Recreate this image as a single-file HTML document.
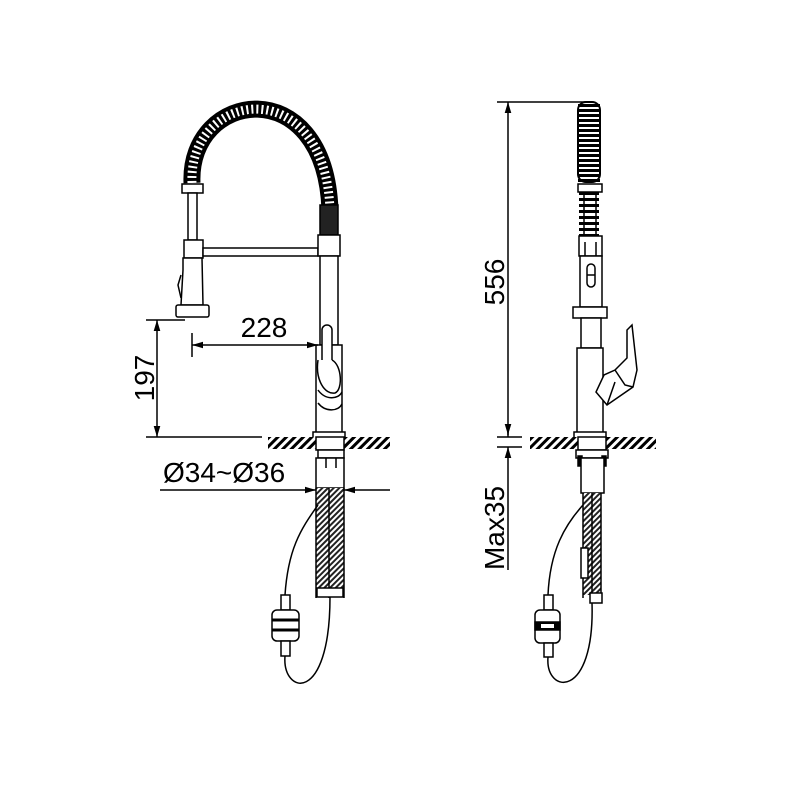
<!DOCTYPE html>
<html><head><style>body{margin:0;background:#fff}svg{display:block}</style></head>
<body>
<svg width="800" height="800" viewBox="0 0 800 800" xmlns="http://www.w3.org/2000/svg" font-family="Liberation Sans, Arial, sans-serif">
<defs>
<pattern id="h" width="6" height="6" patternUnits="userSpaceOnUse" patternTransform="rotate(45)">
<rect width="6" height="6" fill="#fff"/><rect width="3" height="6" fill="#000"/></pattern>
<pattern id="hose" width="4" height="4" patternUnits="userSpaceOnUse" patternTransform="rotate(45)">
<rect width="4" height="4" fill="#fff"/><rect width="2" height="4" fill="#222"/></pattern>
<marker id="a" viewBox="0 0 10 6" refX="10" refY="3" markerWidth="11" markerHeight="7" markerUnits="userSpaceOnUse" orient="auto-start-reverse"><path d="M0,0L10,3L0,6z" fill="#000"/></marker>
</defs>
<g fill="none" stroke="#000" stroke-width="1.5">
<!-- LEFT FAUCET -->
<path d="M192,183 C188,90 325,70 330,210" stroke-width="17"/>
<path d="M192,183 C188,90 325,70 330,210" stroke="#fff" stroke-width="9" stroke-dasharray="2 3"/>
<rect x="320" y="205" width="18" height="30" fill="#222"/>
<rect x="182" y="184" width="21" height="9" fill="#fff"/>
<rect x="188" y="193" width="9" height="47" fill="#fff"/>
<rect x="184" y="240" width="19" height="18" fill="#fff"/>
<path d="M183,258 L202,258 L203,305 L181,305 L183,270 Z" fill="#fff"/>
<path d="M181,275 L178,285 L181,298" />
<rect x="176" y="305" width="33" height="12" rx="2" fill="#fff"/>
<rect x="203" y="248" width="115" height="8" fill="#fff"/>
<rect x="318" y="235" width="22" height="21" fill="#fff"/>
<rect x="320" y="256" width="18" height="89" fill="#fff"/>
<rect x="316" y="345" width="26" height="88" fill="#fff"/>
<rect x="313" y="432" width="32" height="6" fill="#fff"/>
<rect x="322" y="325" width="10" height="45" rx="5" fill="#fff"/>
<path d="M318,360 C315,380 325,395 335,393 C343,390 342,365 332,360" fill="#fff"/>
<path d="M318,390 C325,400 338,400 342,392"/>
<path d="M318,403 C325,412 338,412 342,404"/>
<!-- counter left -->
<rect x="268" y="437" width="48" height="12" fill="url(#h)" stroke="none"/>
<rect x="344" y="437" width="46" height="12" fill="url(#h)" stroke="none"/>
<rect x="316" y="437" width="28" height="13" fill="#fff"/>
<rect x="318" y="450" width="26" height="8" fill="#fff"/>
<rect x="316" y="458" width="28" height="30" fill="#fff"/>
<path d="M326,458v10M336,458v10"/>
<rect x="316" y="488" width="28" height="100" fill="url(#hose)" stroke="none"/>
<path d="M316,488v110M329,488v110M344,488v110"/>
<rect x="317" y="588" width="26" height="9" fill="#fff"/>
<path d="M318,505 C300,530 288,550 285,595"/>
<rect x="281" y="595" width="9" height="15" fill="#fff"/>
<rect x="272" y="610" width="27" height="31" rx="5" fill="#fff"/>
<path d="M272,620h27M272,630h27" stroke-width="3"/>
<rect x="281" y="641" width="9" height="15" fill="#fff"/>
<path d="M285,656 C282,695 330,705 330,597"/>
<!-- left dims -->
<path d="M146,320H185M146,437H262M192,333v24"/>
<path d="M157,320V437" marker-start="url(#a)" marker-end="url(#a)"/>
<path d="M192,345H318" marker-start="url(#a)" marker-end="url(#a)"/>
<path d="M160,490H316" marker-end="url(#a)"/>
<path d="M390,490H344" marker-end="url(#a)"/>
<!-- RIGHT FAUCET -->
<rect x="578" y="102" width="22" height="80" rx="8" fill="#fff" stroke-width="2"/>
<path d="M589,104V182" stroke="#000" stroke-width="22" stroke-dasharray="3 2"/>
<rect x="578" y="184" width="24" height="8" fill="#fff"/>
<path d="M589,192V236" stroke="#000" stroke-width="20" stroke-dasharray="3 3"/>
<path d="M584,192v44M596,192v44"/>
<rect x="579" y="236" width="23" height="20" fill="#fff"/>
<path d="M585,242v14M596,242v14"/>
<rect x="580" y="256" width="22" height="51" fill="#fff"/>
<rect x="587" y="264" width="8" height="23" rx="4" fill="#fff"/>
<path d="M587,275h8"/>
<rect x="573" y="307" width="34" height="11" fill="#fff"/>
<rect x="581" y="318" width="20" height="30" fill="#fff"/>
<rect x="577" y="348" width="26" height="87" fill="#fff"/>
<rect x="574" y="432" width="32" height="6" fill="#fff"/>
<path d="M604,375 L596,392 L607,405 L633,387 L637,370 L632,325 L627,330 L627,358 L615,370 Z" fill="#fff"/>
<path d="M615,370 L625,385 L633,387M607,405 L615,382"/>
<!-- counter right -->
<rect x="530" y="437" width="48" height="12" fill="url(#h)" stroke="none"/>
<rect x="606" y="437" width="50" height="12" fill="url(#h)" stroke="none"/>
<rect x="578" y="437" width="28" height="13" fill="#fff"/>
<rect x="576" y="450" width="32" height="8" fill="#fff"/>
<rect x="578" y="456" width="4" height="10" fill="#000"/>
<rect x="602" y="456" width="4" height="10" fill="#000"/>
<rect x="581" y="458" width="23" height="35" fill="#fff"/>
<rect x="583" y="493" width="18" height="102" fill="url(#hose)" stroke="none"/>
<path d="M583,493v105M592,493v105M601,493v105"/>
<rect x="581" y="548" width="7" height="30" fill="#fff"/>
<rect x="590" y="593" width="12" height="10" fill="#fff"/>
<path d="M583,505 C565,525 550,550 548,595"/>
<rect x="544" y="595" width="9" height="15" fill="#fff"/>
<rect x="535" y="610" width="25" height="33" rx="5" fill="#fff"/>
<rect x="535" y="622" width="25" height="8" fill="#000"/>
<rect x="541" y="624" width="13" height="4" fill="#fff" stroke="none"/>
<rect x="544" y="643" width="9" height="14" fill="#fff"/>
<path d="M548,657 C545,695 595,700 592,603"/>
<!-- right dims -->
<path d="M497,102H590M497,437H522M497,447H522"/>
<path d="M508,102V435" marker-start="url(#a)" marker-end="url(#a)"/>
<path d="M508,570V447" marker-end="url(#a)"/>
<path d="M508,437v-8"/>
</g>
<g font-size="28" fill="#000">
<text x="264" y="337" text-anchor="middle">228</text>
<text x="163" y="482">Ø34~Ø36</text>
<text transform="translate(154,378) rotate(-90)" text-anchor="middle">197</text>
<text transform="translate(504,282) rotate(-90)" text-anchor="middle">556</text>
<text transform="translate(504,528) rotate(-90)" text-anchor="middle">Max35</text>
</g>
</svg>
</body></html>
